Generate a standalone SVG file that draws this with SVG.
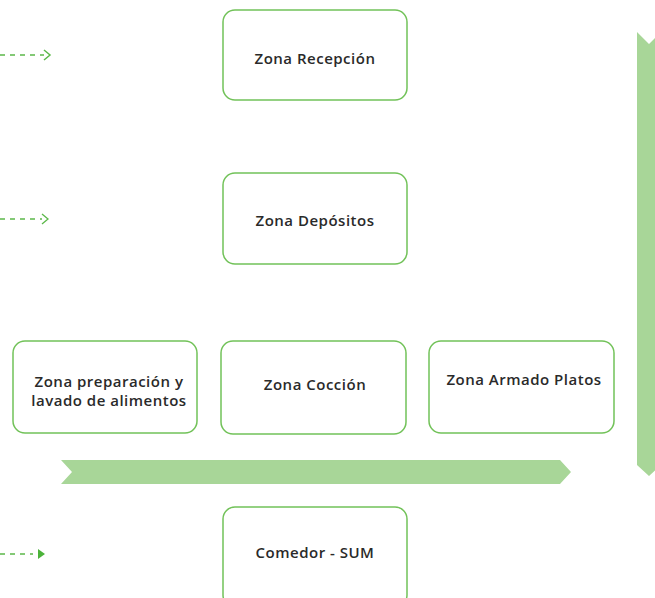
<svg xmlns="http://www.w3.org/2000/svg" width="655" height="598" viewBox="0 0 655 598">
<style>
.box{fill:#fff;stroke:#72c259;stroke-width:1.5}
.lbl{font-family:"Open Sans","Liberation Sans",sans-serif;font-size:15px;font-weight:600;letter-spacing:0.5px;fill:#2a2a2a;text-anchor:middle}
.band{fill:#a8d698}
.dash{fill:none;stroke:#5cb84a;stroke-width:1.3;stroke-dasharray:5 5}
</style>
<rect width="655" height="598" fill="#fff"/>
<g id="connectors">
<path class="dash" d="M0 55H44"/>
<path d="M44 50L50 55L44 60" fill="none" stroke="#5cb84a" stroke-width="1.5"/>
<path class="dash" d="M0 219H42" stroke="#8fcf80"/>
<path d="M42 214L48 219L42 224" fill="none" stroke="#5cb84a" stroke-width="1.3"/>
<path class="dash" d="M0 554H33" stroke="#8fcf80"/>
<path d="M38 549L45 554L38 559Z" fill="#4cb33a"/>
<polygon class="band" points="61,460 560,460 571,472 560,484 61,484 72,472"/>
<polygon class="band" points="637,32 649,44 661,32 661,465 649,476 637,465"/>
</g>
<g id="recepcion"><rect class="box" x="223" y="10" width="184" height="90" rx="12"/><text class="lbl" x="315" y="64">Zona Recepción</text></g>
<g id="depositos"><rect class="box" x="223" y="173" width="184" height="91" rx="12"/><text class="lbl" x="315" y="226">Zona Depósitos</text></g>
<g id="preparacion"><rect class="box" x="13" y="341" width="184" height="92" rx="12"/><text class="lbl" x="109" y="387">Zona preparación y</text><text class="lbl" x="109" y="406">lavado de alimentos</text></g>
<g id="coccion"><rect class="box" x="221" y="341" width="185" height="93" rx="12"/><text class="lbl" x="315" y="390">Zona Cocción</text></g>
<g id="armado"><rect class="box" x="429" y="341" width="185" height="92" rx="12"/><text class="lbl" x="524" y="385">Zona Armado Platos</text></g>
<g id="comedor"><rect class="box" x="223" y="507" width="184" height="100" rx="12"/><text class="lbl" x="315" y="558">Comedor - SUM</text></g>
</svg>
